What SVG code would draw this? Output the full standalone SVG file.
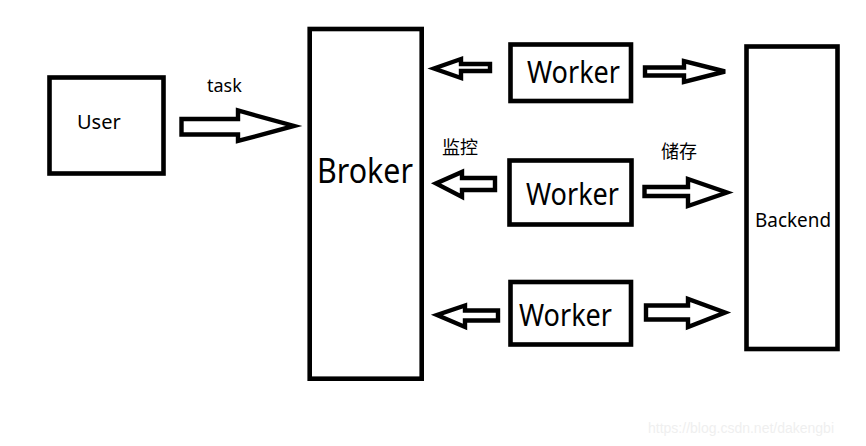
<svg xmlns="http://www.w3.org/2000/svg" width="866" height="446" viewBox="0 0 866 446">
<style>
.box{fill:#fff;stroke:#000;stroke-width:4.6}
.arr{fill:#fff;stroke:#000;stroke-width:4.4;stroke-linejoin:miter}
.t{font-family:"Noto Sans","Noto Sans CJK SC",sans-serif;fill:#000}
.wm{font-family:"Liberation Sans",Arial,sans-serif;font-size:14px;fill:#efefef}
</style>
<rect width="866" height="446" fill="#fff"/>
<g id="connectors">
<polygon class="arr" points="181.5,119 238,119 238,110.5 294,126 238,141 238,134.5 181.5,134.5"/>
<polygon class="arr" points="490,64 461,64 461,59 434,68.5 461,78 461,71 490,71"/>
<polygon class="arr" points="495,178 462,178 462,172 436,183.5 462,197 462,190 495,190"/>
<polygon class="arr" points="498,310.5 465,310.5 465,305.5 437,315 465,327 465,320.5 498,320.5"/>
<polygon class="arr" points="645,67.5 684,67.5 684,61 725,71.5 684,82 684,75.5 645,75.5"/>
<polygon class="arr" points="644.5,187 688,187 688,179 727,192.5 688,206 688,196 644.5,196"/>
<polygon class="arr" points="646,305.5 688,305.5 688,299 725,312.5 688,327 688,319.5 646,319.5"/>
<text class="t" x="207" y="92" font-size="18">task</text>
<text class="t" x="442" y="154" font-size="18">监控</text>
<text class="t" x="661" y="158" font-size="18">储存</text>
</g>
<g id="user">
<rect class="box" x="49.5" y="77.5" width="114" height="96"/>
<text class="t" x="77" y="129" font-size="20">User</text>
</g>
<g id="broker">
<rect class="box" x="309.7" y="29" width="112" height="349.7"/>
<text class="t" x="317" y="183" font-size="34" textLength="96" lengthAdjust="spacingAndGlyphs">Broker</text>
</g>
<g id="worker1">
<rect class="box" x="510.5" y="44.5" width="120.5" height="56.5"/>
<text class="t" x="527" y="83" font-size="30" textLength="93" lengthAdjust="spacingAndGlyphs">Worker</text>
</g>
<g id="worker2">
<rect class="box" x="509.5" y="160.5" width="122" height="64"/>
<text class="t" x="526" y="205" font-size="30" textLength="93" lengthAdjust="spacingAndGlyphs">Worker</text>
</g>
<g id="worker3">
<rect class="box" x="510.5" y="282" width="120.5" height="62.5"/>
<text class="t" x="519" y="326" font-size="30" textLength="93" lengthAdjust="spacingAndGlyphs">Worker</text>
</g>
<g id="backend">
<rect class="box" x="746.5" y="46.5" width="91" height="302.5"/>
<text class="t" x="755" y="227" font-size="19" textLength="76" lengthAdjust="spacingAndGlyphs">Backend</text>
</g>
<text class="wm" x="648" y="433">https://blog.csdn.net/dakengbi</text>
</svg>
